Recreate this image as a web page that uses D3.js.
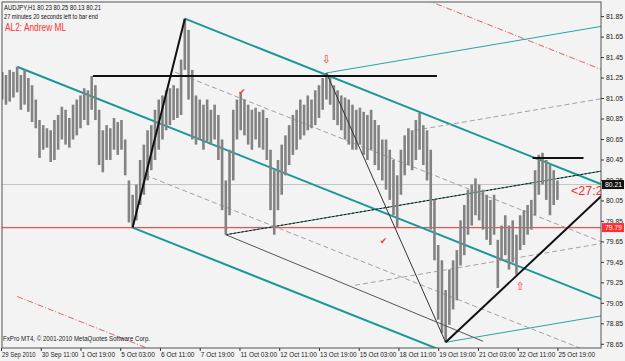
<!DOCTYPE html>
<html><head><meta charset="utf-8">
<script src="https://cdn.jsdelivr.net/npm/d3@7"></script>
<style>
html,body{margin:0;padding:0;background:#f3f3f3;}
svg{display:block;font-family:"Liberation Sans",Arial,sans-serif;}
</style></head><body>
<svg id="c" width="625" height="361"></svg>
<script>
// ---- data (AUDJPY H1, sampled as 3-hour bars) ----
const highs=[81.31,81.28,81.33,81.31,81.36,81.28,81.33,81.25,81.18,81.04,
80.84,80.79,80.76,80.74,80.84,80.89,80.97,80.94,80.86,80.99,
81.04,81.08,81.15,81.13,81.27,81.18,80.94,80.74,80.79,80.76,
80.86,80.82,80.84,80.65,80.25,80.11,80.21,80.45,80.60,80.74,
80.79,80.94,81.04,81.08,81.13,81.15,81.18,81.15,81.43,81.83,
81.72,81.33,81.08,81.04,80.99,81.04,80.94,80.99,80.89,80.65,
80.25,80.55,80.94,81.04,81.10,81.04,80.99,80.94,80.96,80.92,
80.94,80.86,80.55,80.35,80.45,80.60,80.69,80.79,80.89,80.94,
81.04,80.99,81.08,81.04,81.13,81.18,81.25,81.30,81.28,81.18,
81.13,81.08,81.06,81.04,80.99,80.94,80.96,80.92,80.89,80.94,
80.84,80.79,80.65,80.65,80.55,80.45,80.30,80.55,80.69,80.76,
80.74,80.84,80.91,80.79,80.74,80.55,80.06,79.62,79.47,79.18,
79.38,79.47,79.57,79.86,80.01,80.16,80.21,80.27,80.21,80.16,
80.11,80.06,80.11,79.67,79.81,79.91,79.81,79.86,79.72,79.91,
79.96,80.01,80.06,80.35,80.50,80.52,80.45,80.40,80.35,80.25];
const lows=[81.04,80.99,81.02,81.06,81.11,80.94,80.99,80.92,80.82,80.76,
80.47,80.55,80.57,80.43,80.45,80.55,80.65,80.60,80.57,80.65,
80.69,80.76,80.84,80.79,80.94,80.84,80.40,80.33,80.45,80.45,
80.55,80.50,80.55,80.30,79.84,79.79,79.86,80.01,80.11,80.25,
80.35,80.45,80.55,80.65,80.74,80.79,80.84,80.86,80.89,81.33,
81.04,80.65,80.60,80.65,80.55,80.63,80.60,80.65,80.45,79.96,
79.72,79.91,80.25,80.65,80.74,80.69,80.60,80.55,80.65,80.57,
80.55,80.45,79.96,79.72,79.96,80.11,80.30,80.40,80.50,80.55,
80.65,80.69,80.74,80.76,80.79,80.86,80.94,81.04,80.99,80.84,
80.79,80.74,80.65,80.60,80.55,80.55,80.60,80.50,80.45,80.55,
80.40,80.35,80.25,80.16,80.06,79.91,79.79,80.11,80.30,80.40,
80.35,80.45,80.55,80.40,80.25,79.77,79.47,78.89,78.76,78.67,
78.84,78.99,79.08,79.42,79.52,79.72,79.81,79.91,79.86,79.77,
79.67,79.62,79.72,79.20,79.47,79.52,79.38,79.45,79.33,79.57,
79.62,79.72,79.77,79.91,80.11,80.21,80.06,79.91,80.01,80.06];
const hoursPerBar=3;
const yTicks=[78.65,78.85,79.05,79.25,79.45,79.65,79.85,80.05,80.25,80.45,80.65,80.85,81.05,81.25,81.45,81.65,81.85];
const xLabels=["29 Sep 2010","30 Sep 11:00","1 Oct 19:00","5 Oct 03:00","6 Oct 11:00","7 Oct 19:00","11 Oct 03:00","12 Oct 11:00","13 Oct 19:00","15 Oct 03:00","18 Oct 11:00","19 Oct 19:00","21 Oct 03:00","22 Oct 11:00","25 Oct 19:00"];
const hoursPerLabel=32;
const lastPrice=80.21, alertPrice=79.79;
// pitchfork pivots [hour index, price]
const fork1=[[13,81.36],[106,79.79],[148,81.83]];
const fork1HalfStarts=[140,116];
const fork2=[[181,79.72],[262,81.30],[358,78.67]];
const fork2HalfStarts=[285,333];
const trendBC=[[106,79.79],[148,81.83]];
const trendFall=[[262,81.30],[358,78.67]];
const trendThin=[[181,79.72],[388,78.68]];
const trendRise=[[358,78.67],[416,79.33]];
const hLine1=[74,351,81.27];
const hLine2=[428,469,80.47];
const marks=[{k:262,p:81.43,t:"⇩"},{k:194,p:81.12,t:"✔"},{k:308,p:79.66,t:"✔"},{k:418,p:79.22,t:"⇧"}];

// ---- drawing ----
const svg=d3.select("#c");
const L=2,T=2,R=601,B=348;
const x=d3.scaleLinear().domain([0,483]).range([1,600.9]);
const y=d3.scaleLinear().domain([78.65,81.85]).range([344.3,16.6]);
svg.append("rect").attr("width",625).attr("height",361).attr("fill","#f3f3f3");
svg.append("clipPath").attr("id","pc").append("rect").attr("x",L).attr("y",T).attr("width",R-L).attr("height",B-T);
const g=svg.append("g").attr("clip-path","url(#pc)");

// horizontal price lines
g.append("line").attr("x1",L).attr("x2",R).attr("y1",y(lastPrice)).attr("y2",y(lastPrice)).attr("stroke","#c4c4c4");
g.append("line").attr("x1",L).attr("x2",R).attr("y1",y(alertPrice)).attr("y2",y(alertPrice)).attr("stroke","#ff4a4a").attr("stroke-width",1.2);

function seg(k1,p1,k2,p2,st,w,dash){
  const l=g.append("line").attr("x1",x(k1)).attr("y1",y(p1)).attr("x2",x(k2)).attr("y2",y(p2))
   .attr("stroke",st).attr("stroke-width",w);
  if(dash) l.attr("stroke-dasharray",dash);
  return l;
}
function ray(k0,p0,slope,st,w,dash){ seg(k0,p0,600,p0+slope*(600-k0),st,w,dash); }
function fork(P,halfStarts,tineColor,tineW,medColor,warn){
  const [A,Bp,C]=P;
  const M=[(Bp[0]+C[0])/2,(Bp[1]+C[1])/2];
  const s=(M[1]-A[1])/(M[0]-A[0]);
  const med=k=>A[1]+s*(k-A[0]);
  const offC=C[1]-med(C[0]);
  [[halfStarts[0],offC/2],[halfStarts[1],-offC/2]].forEach(([k,o])=>ray(k,med(k)+o,s,"#a2a2a2",1,"5,3"));
  if(warn){ [2*offC,-2*offC].forEach(o=>ray(A[0],med(A[0])+o,s,"#e06464",1,"6,2,1,2")); }
  ray(A[0],A[1],s,medColor,tineW);
  ray(Bp[0],Bp[1],s,tineColor,tineW);
  ray(C[0],C[1],s,tineColor,tineW);
  return s;
}
fork(fork1,fork1HalfStarts,"#1a9898",2,"#1a9898",true);
const s2=fork(fork2,fork2HalfStarts,"#2aa3a3",1,"#2b7070",false);
ray(fork2[0][0],fork2[0][1],s2,"#111",1,"2,2");

// bars
g.selectAll("rect.bar").data(highs).enter().append("rect").attr("class","bar")
 .attr("x",(d,i)=>x(i*hoursPerBar+1)-1.3).attr("width",2.6)
 .attr("y",d=>y(d)).attr("height",(d,i)=>Math.max(1,y(lows[i])-y(d)))
 .attr("fill","#838383");

// trend lines
seg(trendBC[0][0],trendBC[0][1],trendBC[1][0],trendBC[1][1],"#111",2);
seg(trendFall[0][0],trendFall[0][1],trendFall[1][0],trendFall[1][1],"#333",1);
seg(trendThin[0][0],trendThin[0][1],trendThin[1][0],trendThin[1][1],"#555",1);
(function(){const s=(trendRise[1][1]-trendRise[0][1])/(trendRise[1][0]-trendRise[0][0]);ray(trendRise[0][0],trendRise[0][1],s,"#111",2);})();
seg(hLine1[0],hLine1[2],hLine1[1],hLine1[2],"#111",2);
seg(hLine2[0],hLine2[2],hLine2[1],hLine2[2],"#111",2);

// marks
g.selectAll("text.mk").data(marks).enter().append("text").attr("class","mk")
 .attr("x",d=>x(d.k)).attr("y",d=>y(d.p)).attr("dy","0.35em").attr("text-anchor","middle")
 .attr("font-family","DejaVu Sans").attr("font-size",d=>d.t==="✔"?9:11).attr("fill","#ff3030").text(d=>d.t);

// countdown text
g.append("text").attr("x",571).attr("y",y(lastPrice)+10).attr("font-size",12.5).attr("fill","#ff2a2a").text("<27:20");

// frame
svg.append("rect").attr("x",L).attr("y",T).attr("width",R-L).attr("height",B-T).attr("fill","none").attr("stroke","#555").attr("stroke-width",1);

// y axis
const ya=svg.append("g");
yTicks.forEach(v=>{
  ya.append("line").attr("x1",R).attr("x2",R+3).attr("y1",y(v)).attr("y2",y(v)).attr("stroke","#333");
  ya.append("text").attr("x",R+5).attr("y",y(v)).attr("dy","0.35em").attr("font-size",6.8).attr("fill","#222").text(v.toFixed(2));
});
function box(v,bg){
  svg.append("rect").attr("x",R+1).attr("y",y(v)-4.5).attr("width",22).attr("height",9).attr("fill",bg);
  svg.append("text").attr("x",R+4).attr("y",y(v)).attr("dy","0.35em").attr("font-size",6.8).attr("fill","#fff").text(v.toFixed(2));
}
box(lastPrice,"#111");
box(alertPrice,"#ff3030");

// x axis
xLabels.forEach((t,i)=>{
  const xx=x(i*hoursPerLabel);
  svg.append("line").attr("x1",xx+0.5).attr("x2",xx+0.5).attr("y1",B).attr("y2",B+3).attr("stroke","#333");
  svg.append("text").attr("x",xx+1).attr("y",B+9).attr("font-size",6.5)
    .attr("textLength",t.length*3.05).attr("lengthAdjust","spacingAndGlyphs").attr("fill","#222").text(t);
});

// header texts
svg.append("text").attr("x",4).attr("y",10).attr("font-size",7).attr("textLength",97).attr("lengthAdjust","spacingAndGlyphs").attr("fill","#111").text("AUDJPY,H1  80.23 80.25 80.13 80.21");
svg.append("text").attr("x",4).attr("y",18.5).attr("font-size",7).attr("textLength",94).attr("lengthAdjust","spacingAndGlyphs").attr("fill","#111").text("27 minutes 20 seconds left to bar end");
svg.append("text").attr("x",5).attr("y",31).attr("font-size",10).attr("textLength",61).attr("lengthAdjust","spacingAndGlyphs").attr("fill","#ff3030").text("AL2: Andrew ML");
svg.append("text").attr("x",3).attr("y",341).attr("font-size",7).attr("textLength",147).attr("lengthAdjust","spacingAndGlyphs").attr("fill","#222").text("FxPro MT4, © 2001-2010 MetaQuotes Software Corp.");
</script></body></html>
